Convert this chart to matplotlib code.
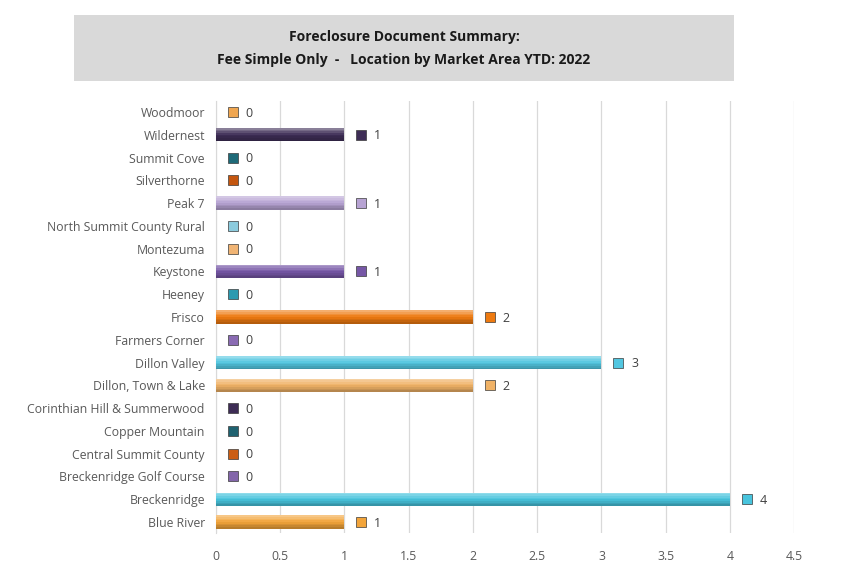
import matplotlib.pyplot as plt
from matplotlib.patches import Rectangle

plt.rcParams['font.family'] = ['Open Sans', 'DejaVu Sans']

# categories from bottom to top
areas = ["Blue River", "Breckenridge", "Breckenridge Golf Course", "Central Summit County",
         "Copper Mountain", "Corinthian Hill & Summerwood", "Dillon, Town & Lake", "Dillon Valley",
         "Farmers Corner", "Frisco", "Heeney", "Keystone", "Montezuma",
         "North Summit County Rural", "Peak 7", "Silverthorne", "Summit Cove", "Wildernest", "Woodmoor"]
counts = [1, 4, 0, 0, 0, 0, 2, 3, 0, 2, 0, 1, 0, 0, 1, 0, 0, 1, 0]
colors = ["#F2A43A", "#48C4DD", "#8366AA", "#CC5E14", "#1F6270", "#3D2C55", "#F0B266", "#52C6E0",
          "#8A6BB3", "#EE7A10", "#2C9AB0", "#7657A6", "#F0B474", "#8CCBDD", "#B7A3D3",
          "#C4560F", "#1E6A78", "#3E2D56", "#F0A650"]
xticks = [0, 0.5, 1, 1.5, 2, 2.5, 3, 3.5, 4, 4.5]

fig = plt.figure(figsize=(8.67, 5.81), dpi=100)
ax = fig.add_axes([0.2491, 0.0819, 0.667, 0.745])

ypos = list(range(len(areas)))
bh = 0.58
ax.barh(ypos, counts, height=bh, color=colors, edgecolor="none", zorder=3)
# shading bands: light on top, dark at the bottom
nb = 8
for k in range(nb):
    frac = (k + 0.5) / nb            # 0 bottom .. 1 top
    off = -bh / 2 + frac * bh
    if frac > 0.5:
        col, a = "white", 0.45 * (frac - 0.5) * 2 * (1 if frac < 0.95 else 0.6)
    else:
        col, a = "black", 0.28 * (0.5 - frac) * 2
    ax.barh([y + off for y in ypos], counts, height=bh / nb, color=col, alpha=a,
            edgecolor="none", zorder=4)

for y, v, c in zip(ypos, counts, colors):
    ax.plot(v + 0.13, y, marker="s", markersize=6.5, color=c, markeredgecolor="#3a3a3a",
            markeredgewidth=0.5, zorder=5, clip_on=False)
    ax.text(v + 0.23, y - 0.05, str(v), va="center", ha="left", fontsize=9, color="#404040")

ax.set_xlim(0, 4.5)
ax.set_ylim(-0.5, len(areas) - 0.5)
ax.set_xticks(xticks)
ax.set_xticklabels([f"{t:g}" for t in xticks])
ax.set_yticks(ypos)
ax.set_yticklabels(areas)
ax.tick_params(axis="both", length=0, labelsize=8.8, labelcolor="#595959")
ax.tick_params(axis="x", pad=12)
ax.tick_params(axis="y", pad=8)
ax.grid(axis="x", color="#D9D9D9", linewidth=0.9, zorder=0)
for s in ["top", "right", "bottom"]:
    ax.spines[s].set_visible(False)
ax.spines["left"].set_color("#D9D9D9")

# title box
fig.patches.append(Rectangle((74 / 867, 1 - 81 / 581), 660 / 867, 66 / 581,
                             transform=fig.transFigure, facecolor="#D9D9D9",
                             edgecolor="none", zorder=0))
fig.text(404 / 867, 1 - 37 / 581, "Foreclosure Document Summary:", ha="center", va="center",
         fontsize=10, fontweight="bold", color="#1a1a1a")
fig.text(404 / 867, 1 - 60 / 581, "Fee Simple Only  -   Location by Market Area YTD: 2022",
         ha="center", va="center", fontsize=10, fontweight="bold", color="#1a1a1a")

fig.savefig("out.png", dpi=100)
